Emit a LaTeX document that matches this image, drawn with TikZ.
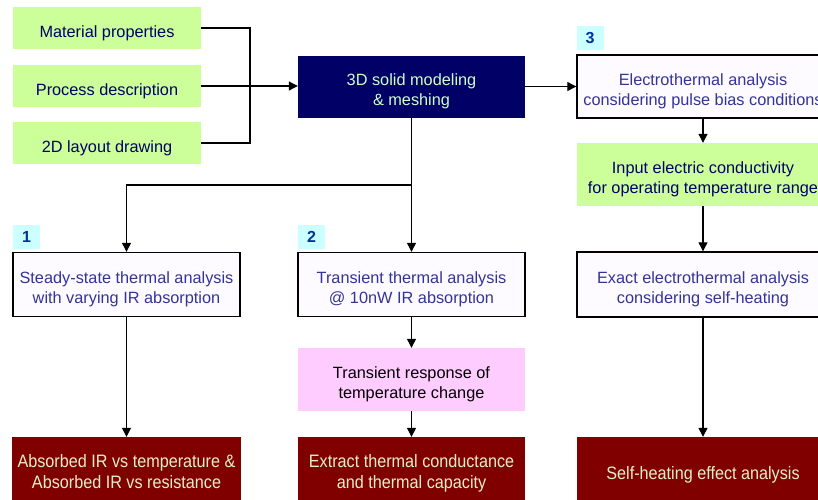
\documentclass[tikz,border=0pt]{standalone}
\usepackage{fontspec}
\setmainfont{Liberation Sans}
\newfontfamily\narrowfont[FakeStretch=0.9]{Liberation Sans}
\usetikzlibrary{arrows.meta}
\definecolor{inputgreen}{RGB}{204,255,153}
\definecolor{meshnavy}{RGB}{0,0,102}
\definecolor{meshtext}{RGB}{204,255,204}
\definecolor{stepblue}{RGB}{51,51,153}
\definecolor{stepfill}{RGB}{253,251,255}
\definecolor{respink}{RGB}{255,204,255}
\definecolor{tagcyan}{RGB}{204,255,255}
\definecolor{tagblue}{RGB}{0,51,153}
\definecolor{outred}{RGB}{128,0,0}
\definecolor{outtext}{RGB}{225,240,200}
\newcommand\boxlift{42pt}
\tikzset{
  lift/.store in=\boxlift,
  box/.style={rectangle, align=center, inner sep=0pt, font=\fontsize{16.3}{20}\selectfont,
    lift=42pt, execute at begin node={\rule{0pt}{\boxlift}},
    execute at end node={\rule[-4pt]{0pt}{4pt}}},
  inbox/.style={box, lift=22pt, fill=inputgreen, text=meshnavy, minimum width=188, minimum height=42},
  stepbox/.style={box, draw=black, line width=1.4pt, fill=stepfill, text=stepblue, minimum width=227, minimum height=64},
  outbox/.style={box, lift=40pt, fill=outred, text=outtext, minimum width=229, minimum height=66, font=\narrowfont\fontsize{18}{21}\selectfont},
  tagbox/.style={rectangle, fill=tagcyan, text=tagblue, minimum width=27, minimum height=24, inner sep=0pt, font=\bfseries\fontsize{16}{18}\selectfont},
  flow/.style={line width=1.2pt, -{Triangle[length=9pt, width=9pt]}},
  link/.style={line width=1.2pt}
}
\begin{document}
\begin{tikzpicture}[x=1pt,y=1pt,yscale=-1]
    \useasboundingbox (0,0) rectangle (818,499);
    \clip (0,0) rectangle (818,499);
    \fill[white] (0,0) rectangle (818,499);

    % inputs
    \node[inbox] (mat) at (107,28) {Material properties};
    \node[inbox] (proc) at (107,86) {Process description};
    \node[inbox] (lay) at (107,143) {2D layout drawing};
    \coordinate (join) at (250,86);

    % modeling
    \node[box, fill=meshnavy, text=meshtext, minimum width=227, minimum height=62] (solid) at (411.5,86.5) {3D solid modeling\\\& meshing};
    \coordinate (split) at (411.5,185);

    % branch 1
    \node[tagbox] (tag1) at (26.5,237) {1};
    \node[stepbox] (steady) at (126.5,284.5) {Steady-state thermal analysis\\with varying IR absorption};
    \node[outbox] (absorb) at (126.5,470) {Absorbed IR vs temperature \&\\Absorbed IR vs resistance};

    % branch 2
    \node[tagbox] (tag2) at (311.5,237) {2};
    \node[stepbox] (trans) at (411.5,284.5) {Transient thermal analysis\\@ 10nW IR absorption};
    \node[box, fill=respink, text=black, minimum width=227, minimum height=63] (resp) at (411.5,379.5) {Transient response of\\temperature change};
    \node[outbox, minimum width=227] (extract) at (411.5,470) {Extract thermal conductance\\and thermal capacity};

    % branch 3
    \node[tagbox] (tag3) at (590,38) {3};
    \node[stepbox, minimum width=252, minimum height=63] (elec) at (703,86.5) {Electrothermal analysis\\considering pulse bias conditions};
    \node[box, fill=inputgreen, text=meshnavy, minimum width=252, minimum height=63] (cond) at (703,174.5) {Input electric conductivity\\for operating temperature range};
    \node[stepbox, minimum width=252, minimum height=65] (exact) at (703,284.5) {Exact electrothermal analysis\\considering self-heating};
    \node[outbox, lift=22pt, minimum width=252] (self) at (703,470) {Self-heating effect analysis};

    % connectors
    \draw[link] (mat.east) -| (join);
    \draw[link] (lay.east) -| (join);
    \draw[flow] (proc.east) -- (proc.east -| solid.west);
    \draw[flow] (solid.east) -- (elec.west);
    \draw[link] (solid.south) -- (split);
    \draw[flow] (split) -| (steady.north);
    \draw[flow] (split) -- (trans.north);
    \draw[flow] (steady.south) -- (absorb.north);
    \draw[flow] (trans.south) -- (resp.north);
    \draw[flow] (resp.south) -- (extract.north);
    \draw[flow] (elec.south) -- (cond.north);
    \draw[flow] (cond.south) -- (exact.north);
    \draw[flow] (exact.south) -- (self.north);
\end{tikzpicture}
\end{document}
